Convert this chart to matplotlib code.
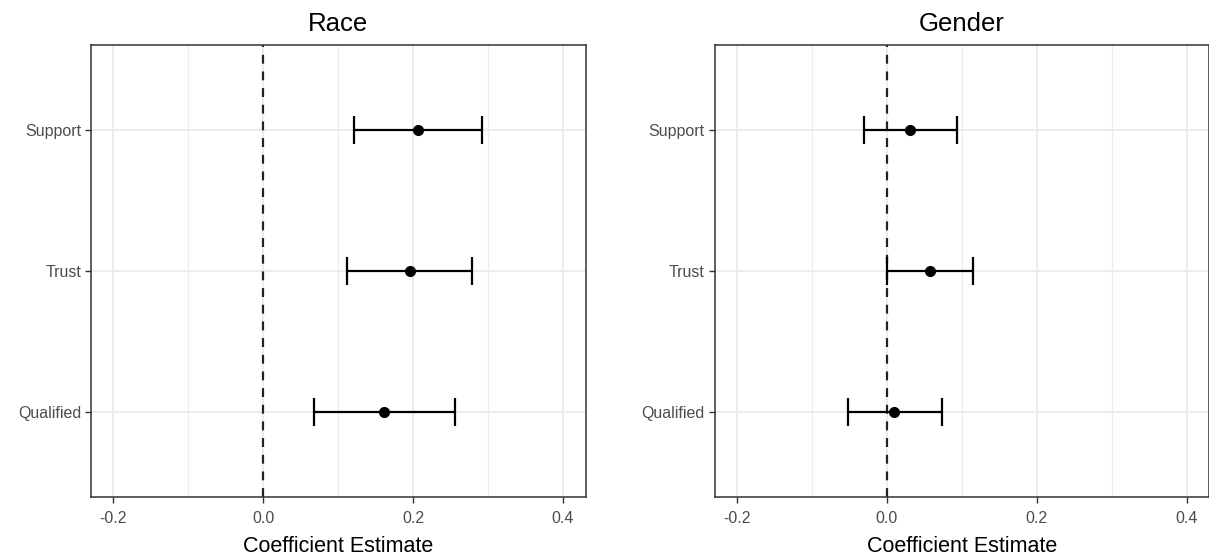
import numpy as np
import matplotlib
matplotlib.use("Agg")
import matplotlib.pyplot as plt

plt.rcParams['font.family'] = ['Liberation Sans', 'DejaVu Sans']

# outcomes, bottom to top
outcomes = ["Qualified", "Trust", "Support"]

race_est = [0.161, 0.196, 0.207]
race_lo = [0.067, 0.112, 0.121]
race_hi = [0.256, 0.279, 0.292]

gender_est = [0.010, 0.058, 0.031]
gender_lo = [-0.052, 0.000, -0.031]
gender_hi = [0.073, 0.115, 0.093]

panels = [("Race", race_est, race_lo, race_hi),
          ("Gender", gender_est, gender_lo, gender_hi)]

W, H = 1209, 555
fig = plt.figure(figsize=(W / 100, H / 100), dpi=100)

lefts = [91, 714.5]
pw = 494.5
top, bottom = 45, 497

for (title, est, lo, hi), left in zip(panels, lefts):
    ax = fig.add_axes([left / W, (H - bottom) / H, pw / W, (bottom - top) / H])
    y = np.arange(len(outcomes))
    est = np.array(est)
    err = [est - np.array(lo), np.array(hi) - est]

    # grid like theme_bw
    for v in [-0.1, 0.1, 0.3]:
        ax.axvline(v, color="#EBEBEB", lw=0.8, zorder=0)
    for v in [-0.2, 0.0, 0.2, 0.4]:
        ax.axvline(v, color="#EBEBEB", lw=1.3, zorder=0)
    for v in y:
        ax.axhline(v, color="#EBEBEB", lw=1.3, zorder=0)

    ax.axvline(0, color="#222222", lw=1.6, ls=(0, (4, 3.5)), zorder=1)
    ax.errorbar(est, y, xerr=err, fmt="o", color="black", ms=7,
                elinewidth=1.6, capsize=10, capthick=1.6, zorder=3)

    ax.set_xlim(-0.23, 0.43)
    ax.set_ylim(-0.6, 2.6)
    ax.set_yticks(y)
    ax.set_yticklabels(outcomes)
    ax.set_xticks([-0.2, 0.0, 0.2, 0.4])
    ax.set_xticklabels(["-0.2", "0.0", "0.2", "0.4"])
    ax.tick_params(axis="both", length=4, width=1, color="#333333",
                   labelcolor="#4D4D4D", labelsize=11.5, pad=3)
    ax.tick_params(axis="x", pad=6)
    for s in ax.spines.values():
        s.set_color("#333333")
        s.set_linewidth(1.1)
    ax.set_title(title, fontsize=18.5, color="black", pad=10)
    ax.set_xlabel("Coefficient Estimate", fontsize=15.5, color="black", labelpad=7)

fig.savefig("out.png", dpi=100)
